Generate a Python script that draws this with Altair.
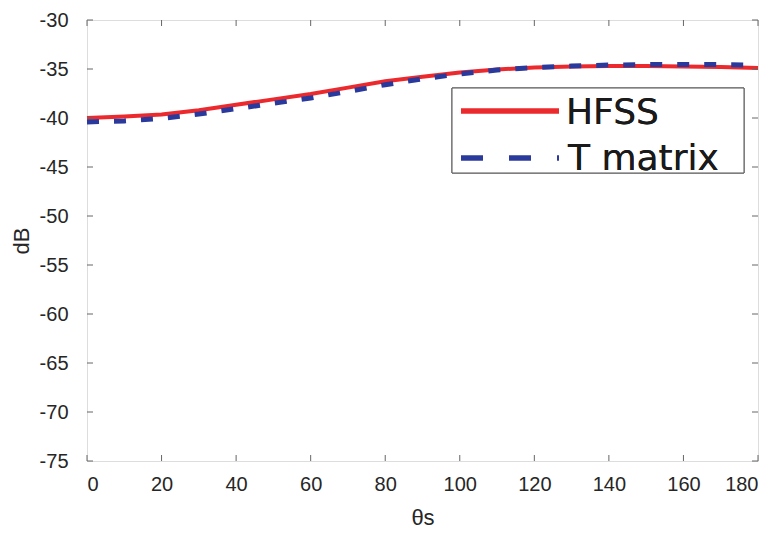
import altair as alt
import pandas as pd

# data
theta = [0, 10, 20, 30, 40, 50, 60, 70, 80, 90, 100, 110, 120, 130, 140, 150, 160, 170, 180]
hfss = [-40.0, -39.85, -39.65, -39.2, -38.65, -38.1, -37.55, -36.9, -36.25, -35.8, -35.35,
        -35.05, -34.85, -34.75, -34.7, -34.7, -34.75, -34.8, -34.9]
tmatrix = [-40.4, -40.3, -40.05, -39.6, -39.05, -38.5, -37.95, -37.3, -36.6, -36.0, -35.5,
           -35.1, -34.85, -34.7, -34.6, -34.55, -34.55, -34.55, -34.6]
series_names = ["HFSS", "T matrix"]
x_ticks = [0, 20, 40, 60, 80, 100, 120, 140, 160, 180]
y_ticks = [-75, -70, -65, -60, -55, -50, -45, -40, -35, -30]

RED = "#ec2a2d"
BLUE = "#2a3a9c"
W, H = 671, 441

df = pd.DataFrame({
    "theta": theta * 2,
    "dB": hfss + tmatrix,
    "series": [series_names[0]] * len(theta) + [series_names[1]] * len(theta),
})
xt = pd.DataFrame({"v": x_ticks})
yt = pd.DataFrame({"v": y_ticks})

xscale = alt.Scale(domain=[0, 180], nice=False, zero=False)
yscale = alt.Scale(domain=[-75, -30], nice=False, zero=False)

xaxis = alt.Axis(values=x_ticks, ticks=False, domain=False, grid=False,
                 labelExpr="'' + datum.value",
                 labelFontSize=20, labelFont="Liberation Sans", labelColor="#262626",
                 labelPadding=13, title="θs", titleFontSize=22, titleFont="Liberation Sans",
                 titleFontWeight="normal", titleColor="#262626", titlePadding=13)
yaxis = alt.Axis(values=y_ticks, ticks=False, domain=False, grid=False,
                 labelExpr="'' + datum.value",
                 labelFontSize=20, labelFont="Liberation Sans", labelColor="#262626",
                 labelPadding=19, title="dB", titleFontSize=22, titleFont="Liberation Sans",
                 titleFontWeight="normal", titleColor="#262626", titlePadding=6)

base = alt.Chart(df)
red_line = base.transform_filter(alt.datum.series == series_names[0]).mark_line(
    color=RED, strokeWidth=4).encode(
    x=alt.X("theta:Q", scale=xscale, axis=xaxis),
    y=alt.Y("dB:Q", scale=yscale, axis=yaxis),
)
blue_line = base.transform_filter(alt.datum.series == series_names[1]).mark_line(
    color=BLUE, strokeWidth=5, strokeDash=[12, 15]).encode(
    x=alt.X("theta:Q", scale=xscale),
    y=alt.Y("dB:Q", scale=yscale),
)

tick_color = "#666666"
tick_bottom = alt.Chart(xt).mark_rule(color=tick_color, strokeWidth=1).encode(
    x=alt.X("v:Q", scale=xscale), y=alt.value(H), y2=alt.value(H - 6))
tick_top = alt.Chart(xt).mark_rule(color=tick_color, strokeWidth=1).encode(
    x=alt.X("v:Q", scale=xscale), y=alt.value(0), y2=alt.value(6))
tick_left = alt.Chart(yt).mark_rule(color=tick_color, strokeWidth=1).encode(
    y=alt.Y("v:Q", scale=yscale), x=alt.value(0), x2=alt.value(6))
tick_right = alt.Chart(yt).mark_rule(color=tick_color, strokeWidth=1).encode(
    y=alt.Y("v:Q", scale=yscale), x=alt.value(W - 6), x2=alt.value(W))

# legend (manual, MATLAB style)
leg_df = pd.DataFrame({"s": series_names})
leg_box = alt.Chart(leg_df).mark_rect(fill="white", stroke="#555555", strokeWidth=1).encode(
    x=alt.value(365), x2=alt.value(657), y=alt.value(68), y2=alt.value(153))
leg_red = alt.Chart(leg_df).mark_rule(color=RED, strokeWidth=5).encode(
    x=alt.value(374), x2=alt.value(472), y=alt.value(91))
leg_blue = alt.Chart(leg_df).mark_rule(color=BLUE, strokeWidth=5, strokeDash=[22, 26]).encode(
    x=alt.value(374), x2=alt.value(472), y=alt.value(138))
leg_t1 = alt.Chart(leg_df).mark_text(text=series_names[0], align="left", baseline="middle",
                                     fontSize=36, font="DejaVu Sans", color="#1a1a1a").encode(
    x=alt.value(479), y=alt.value(93))
leg_t2 = alt.Chart(leg_df).mark_text(text=series_names[1], align="left", baseline="middle",
                                     fontSize=36, font="DejaVu Sans", color="#1a1a1a").encode(
    x=alt.value(481), y=alt.value(139))

chart = alt.layer(
    red_line, blue_line, tick_bottom, tick_top, tick_left, tick_right,
    leg_box, leg_red, leg_blue, leg_t1, leg_t2,
).properties(
    width=W, height=H,
    autosize=alt.AutoSizeParams(type="none"),
    padding={"left": 79, "top": 12, "right": 16, "bottom": 70},
).configure_view(
    stroke="#666666", strokeWidth=1
).configure(background="white")

chart.save("out.html", embed_options={"renderer": "svg", "actions": False})
